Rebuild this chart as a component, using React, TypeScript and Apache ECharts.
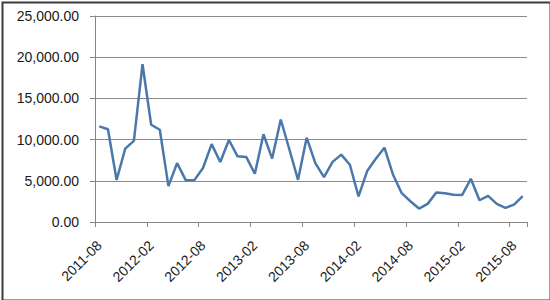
import React, { useEffect, useRef } from "react";
import * as echarts from "echarts";

const months: string[] = [
  "2011-08", "2011-09", "2011-10", "2011-11", "2011-12",
  "2012-01", "2012-02", "2012-03", "2012-04", "2012-05", "2012-06", "2012-07",
  "2012-08", "2012-09", "2012-10", "2012-11", "2012-12",
  "2013-01", "2013-02", "2013-03", "2013-04", "2013-05", "2013-06", "2013-07",
  "2013-08", "2013-09", "2013-10", "2013-11", "2013-12",
  "2014-01", "2014-02", "2014-03", "2014-04", "2014-05", "2014-06", "2014-07",
  "2014-08", "2014-09", "2014-10", "2014-11", "2014-12",
  "2015-01", "2015-02", "2015-03", "2015-04", "2015-05", "2015-06", "2015-07",
  "2015-08", "2015-09",
];

const values: number[] = [
  11600, 11250, 5100, 8900, 9850,
  19150, 11800, 11200, 4350, 7150, 5080, 5080,
  6550, 9450, 7280, 9950, 7970,
  7900, 5850, 10650, 7700, 12440, 8800, 5120,
  10230, 7150, 5450, 7300, 8180,
  6950, 3100, 6180, 7680, 9020, 5730, 3500,
  2520, 1630, 2200, 3580, 3500,
  3300, 3290, 5240, 2640, 3170, 2200, 1710,
  2110, 3130,
];

const yMin = 0;
const yMax = 25000;
const yStep = 5000;

const FONT = "'Liberation Sans', Arial, sans-serif";

export default function App() {
  const ref = useRef<HTMLDivElement>(null);
  useEffect(() => {
    if (!ref.current) return;
    const chart = echarts.init(ref.current, null, { renderer: "svg" });
    chart.setOption({
      animation: false,
      backgroundColor: "#ffffff",
      grid: { left: 95, right: 23, top: 16, bottom: 78, containLabel: false },
      xAxis: {
        type: "category",
        data: months,
        boundaryGap: true,
        axisLine: { show: true, lineStyle: { color: "#868686", width: 1 } },
        axisTick: { show: true, interval: 5, length: 5, lineStyle: { color: "#868686" } },
        axisLabel: {
          interval: 5,
          rotate: 45,
          margin: 21,
          color: "#1a1a1a",
          fontFamily: FONT,
          fontSize: 14,
        },
        splitLine: { show: false },
      },
      yAxis: {
        type: "value",
        min: yMin,
        max: yMax,
        interval: yStep,
        axisLine: { show: true, lineStyle: { color: "#868686", width: 1 } },
        axisTick: { show: true, length: 5, lineStyle: { color: "#868686" } },
        axisLabel: {
          margin: 16,
          color: "#1a1a1a",
          fontFamily: FONT,
          fontSize: 14,
          formatter: (v: number) =>
            v.toLocaleString("en-US", { minimumFractionDigits: 2, maximumFractionDigits: 2 }),
        },
        splitLine: { show: true, lineStyle: { color: "#8c8c8c", width: 1 } },
      },
      series: [
        {
          type: "line",
          data: values,
          symbol: "none",
          lineStyle: { color: "#4a78aa", width: 2.5 },
          itemStyle: { color: "#4a78aa" },
        },
      ],
      graphic: [
        {
          type: "rect",
          left: 0,
          top: 0,
          shape: { x: 1, y: 1, width: 548, height: 298 },
          style: { fill: "none", stroke: "#3c3c3c", lineWidth: 2 },
          silent: true,
        },
      ],
    });
    return () => chart.dispose();
  }, []);
  return (
    <div
      ref={ref}
      style={{ position: "absolute", left: 0, top: 0, width: 550, height: 300 }}
    />
  );
}
